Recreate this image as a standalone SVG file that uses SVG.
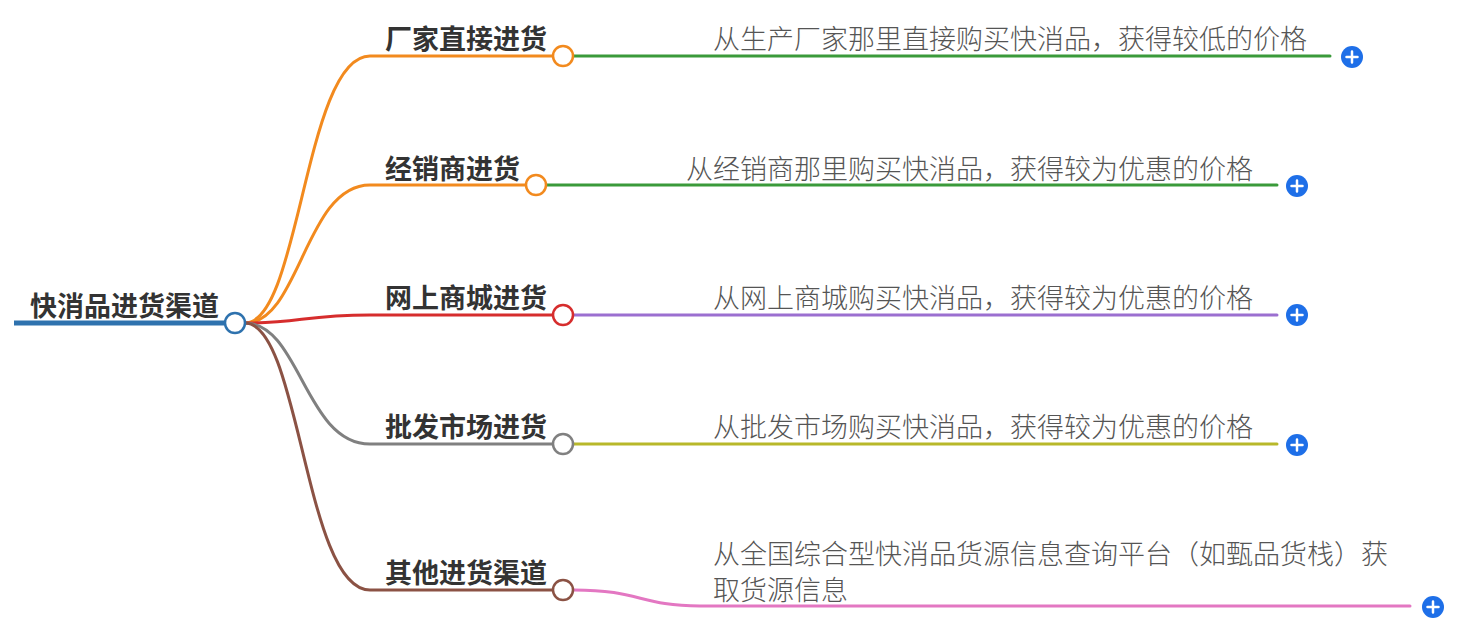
<svg xmlns="http://www.w3.org/2000/svg" width="1458" height="630" viewBox="0 0 1458 630">
<style>
.lbl{font-family:"Noto Sans CJK SC","Noto Sans",sans-serif;font-weight:700;font-size:27px;fill:#333}
.txt{font-family:"Noto Sans CJK SC","Noto Sans",sans-serif;font-weight:300;font-size:27px;fill:#555}
.ln{fill:none;stroke-width:3;stroke-linecap:round}
.nd{fill:#fff;stroke-width:2.5}
.plus{fill:#1e6fe8}
.pl{stroke:#fff;stroke-width:2.5;stroke-linecap:round}
</style>
<defs>
<g id="plusbtn"><circle r="11" class="plus"/><path class="pl" d="M-5.5,0H5.5M0,-5.5V5.5"/></g>
</defs>
<g id="connectors">
<path class="ln" stroke="#f28a1e" d="M245,323 C300,323 305,56 370,56 L552,56"/>
<path class="ln" stroke="#f28a1e" d="M245,323 C300,323 305,185 370,185 L525,185"/>
<path class="ln" stroke="#d62d2d" d="M245,323 C300,323 305,315 370,315 L552,315"/>
<path class="ln" stroke="#808080" d="M245,323 C300,323 305,444 370,444 L552,444"/>
<path class="ln" stroke="#8b5244" d="M245,323 C300,323 305,590 370,590 L552,590"/>
<path class="ln" stroke="#3a9a3a" stroke-width="2" d="M574,56 L1330,56"/>
<path class="ln" stroke="#3a9a3a" stroke-width="2" d="M547,185 L1277,185"/>
<path class="ln" stroke="#9b6fd0" stroke-width="2" d="M574,315 L1277,315"/>
<path class="ln" stroke="#b8b82a" stroke-width="2" d="M574,444 L1277,444"/>
<path class="ln" stroke="#e377c2" stroke-width="2" d="M574,590 C640,590 640,606 700,606 L1410,606"/>
</g>
<g id="root">
<line x1="14" y1="323" x2="224" y2="323" stroke="#2e72ae" stroke-width="5"/>
<text class="lbl" x="30" y="316">快消品进货渠道</text>
<circle class="nd" cx="235" cy="323" r="10" stroke="#2e72ae"/>
</g>
<g id="n1">
<text class="lbl" x="385" y="49">厂家直接进货</text>
<circle class="nd" cx="563" cy="56" r="10" stroke="#f28a1e"/>
</g>
<g id="n2">
<text class="lbl" x="385" y="179">经销商进货</text>
<circle class="nd" cx="536" cy="185" r="10" stroke="#f28a1e"/>
</g>
<g id="n3">
<text class="lbl" x="385" y="308">网上商城进货</text>
<circle class="nd" cx="563" cy="315" r="10" stroke="#d62d2d"/>
</g>
<g id="n4">
<text class="lbl" x="385" y="437">批发市场进货</text>
<circle class="nd" cx="563" cy="444" r="10" stroke="#808080"/>
</g>
<g id="n5">
<text class="lbl" x="385" y="583">其他进货渠道</text>
<circle class="nd" cx="563" cy="590" r="10" stroke="#8b5244"/>
</g>
<g id="c1">
<text class="txt" x="713" y="49">从生产厂家那里直接购买快消品，获得较低的价格</text>
<use href="#plusbtn" x="1352" y="57"/>
</g>
<g id="c2">
<text class="txt" x="686" y="179">从经销商那里购买快消品，获得较为优惠的价格</text>
<use href="#plusbtn" x="1297" y="186"/>
</g>
<g id="c3">
<text class="txt" x="713" y="308">从网上商城购买快消品，获得较为优惠的价格</text>
<use href="#plusbtn" x="1297" y="315"/>
</g>
<g id="c4">
<text class="txt" x="713" y="437">从批发市场购买快消品，获得较为优惠的价格</text>
<use href="#plusbtn" x="1297" y="445"/>
</g>
<g id="c5">
<text class="txt" x="713" y="564">从全国综合型快消品货源信息查询平台（如甄品货栈）获</text>
<text class="txt" x="713" y="600">取货源信息</text>
<use href="#plusbtn" x="1433" y="607"/>
</g>
</svg>
